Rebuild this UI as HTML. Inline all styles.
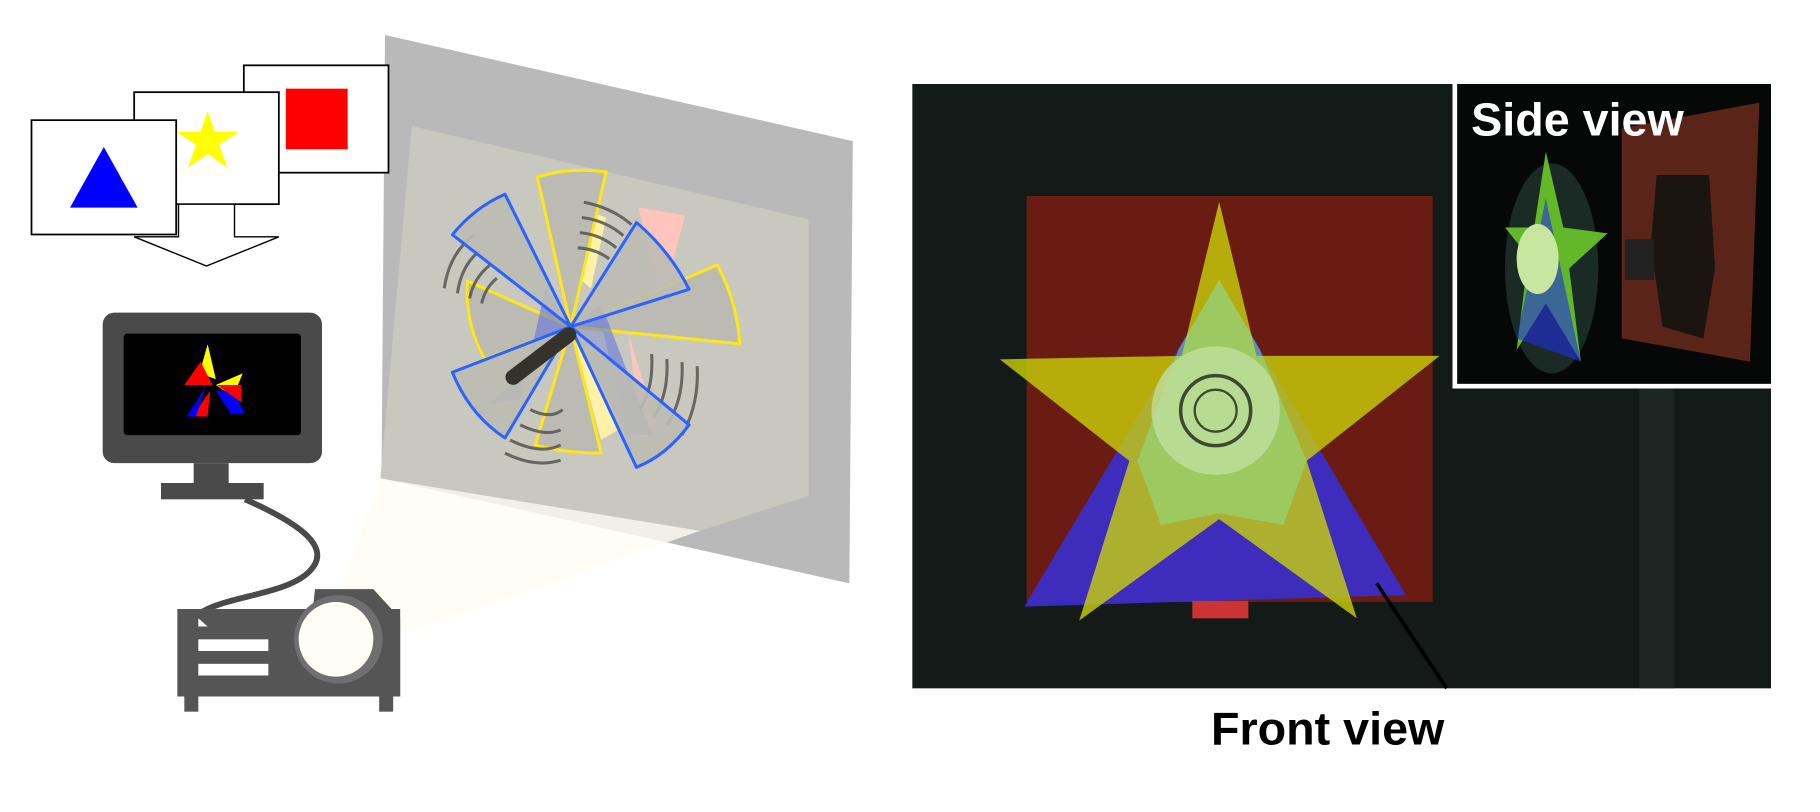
<!DOCTYPE html>
<html><head><meta charset="utf-8"><style>
html,body{margin:0;padding:0;background:#fff;width:1820px;height:812px;overflow:hidden}
svg{display:block}
text{font-family:"Liberation Sans",sans-serif;font-weight:bold}
</style></head><body>
<svg width="1820" height="812" viewBox="0 0 1560 696" preserveAspectRatio="none">
<polygon points="330,30 731,121 728,500 327,410" fill="#b9b9b9"/>
<polygon points="353,108 693,188 693,425 600,455 326,410" fill="#c9c8bf"/>
<polygon points="270,570 326,410 600,455" fill="#fffdf2" opacity="0.8"/>
<g stroke="#000" stroke-width="1.5">
<rect x="209" y="56" width="124" height="92" fill="#fff"/>
<rect x="245" y="76" width="53" height="52" fill="#f00" stroke="none"/>
<rect x="115" y="79" width="124" height="96" fill="#fff"/>
<polygon fill="#ff0" stroke="none" points="178,95 184,113 205,113 188,124 195,144 178,132 161,144 168,124 151,113 172,113"/>
<rect x="27" y="103" width="124" height="98" fill="#fff"/>
<polygon points="60,178 89,126 118,178" fill="#0000ff" stroke="none"/>
</g>
<polygon points="153,175 201,175 201,203 239,203 177,228 115,203 153,203" fill="#fff" stroke="#000" stroke-width="1.2"/>
<g>
<rect x="88" y="268" width="188" height="129" rx="10" fill="#4a4a4a"/>
<rect x="106" y="286" width="152" height="87" rx="3" fill="#000"/>
<polygon points="178,295 185,325 171,320" fill="#ff0"/>
<polygon points="172,310 182,330 158,330" fill="#f00"/>
<polygon points="185,330 208,320 200,340" fill="#ff0"/>
<polygon points="185,335 198,355 210,355 200,335" fill="#00f"/>
<polygon points="180,335 165,357 178,357" fill="#f00"/>
<polygon points="176,332 160,357 168,357" fill="#00f"/>
<polygon points="186,330 207,330 207,345" fill="#f00"/>
<rect x="166" y="397" width="30" height="17" fill="#4a4a4a"/>
<rect x="138" y="414" width="88" height="14" fill="#4a4a4a"/>
</g>
<path d="M210,428 C260,450 285,470 265,490 C240,515 165,510 162,540" fill="none" stroke="#4a4a4a" stroke-width="5"/>
<g>
<rect x="152" y="522" width="191" height="75" fill="#555"/>
<polygon points="270,505 320,505 343,530 343,597 260,597" fill="#555"/>
<circle cx="290" cy="548" r="38" fill="#6f6f6f"/>
<circle cx="288" cy="548" r="32" fill="#fffef5"/>
<rect x="170" y="548" width="60" height="10" fill="#fff"/>
<rect x="170" y="569" width="60" height="10" fill="#fff"/>
<polygon points="170,530 178,537 170,537" fill="#fff"/>
<rect x="158" y="597" width="12" height="13" fill="#555"/>
<rect x="325" y="597" width="12" height="13" fill="#555"/>
</g>
<g transform="translate(-5,0) scale(0.867)">
<polygon points="560,260 575,205 605,215 590,285" fill="#fff2a8"/>
<polygon points="637,205 683,213 660,300" fill="#ffc4bc"/>
<polygon points="570,323 600,435 625,420 600,320" fill="#fff2a8"/>
<polygon points="627,330 640,435 655,420" fill="#ffc4bc"/>
<g fill="#bcbbb3" stroke="#ffe61a" stroke-width="3" stroke-linejoin="round">
<path d="M570,323 L537,175 Q570,165 605,170 Z"/>
<path d="M570,323 L715,262 Q735,300 737,340 Z"/>
<path d="M570,323 L600,448 Q565,448 535,440 Z"/>
<path d="M570,323 L468,278 Q465,320 485,355 Z"/>
</g>
<g fill="none" stroke="#555" stroke-width="3" opacity="0.85">
<path d="M445,285 Q450,250 475,232"/><path d="M458,290 Q462,262 480,248"/><path d="M470,295 Q474,275 490,262"/><path d="M482,300 Q485,285 497,275"/>
<path d="M583,200 Q610,205 630,222"/><path d="M581,215 Q605,218 622,233"/><path d="M579,230 Q600,232 615,245"/><path d="M577,245 Q595,246 608,256"/>
<path d="M650,350 Q652,385 638,405"/><path d="M665,355 Q667,390 652,412"/><path d="M680,358 Q682,395 665,420"/><path d="M695,362 Q697,400 680,430"/>
<path d="M530,405 Q550,415 562,405"/><path d="M520,420 Q545,432 560,425"/><path d="M510,435 Q540,450 560,440"/><path d="M505,448 Q535,463 560,455"/>
</g>
<polygon points="570,323 545,285 520,395 490,400" fill="#5a6fe0" opacity="0.55"/>
<polygon points="570,323 600,300 650,430 625,430" fill="#5a6fe0" opacity="0.55"/>
<g fill="#bcbbb3" fill-opacity="0.9" stroke="#2b63ff" stroke-width="3" stroke-linejoin="round">
<path d="M570,323 L453,232 Q475,205 505,192 Z"/>
<path d="M570,323 L635,220 Q668,248 687,286 Z"/>
<path d="M570,323 L687,420 Q665,450 635,462 Z"/>
<path d="M570,323 L505,433 Q470,410 453,368 Z"/>
</g>
<line x1="513" y1="373" x2="568" y2="331" stroke="#33322c" stroke-width="15" stroke-linecap="round"/>
</g>
<g>
<rect x="782" y="72" width="736" height="518" fill="#141a17"/>
<rect x="1405" y="330" width="30" height="260" fill="#1e2624"/>
<rect x="880" y="168" width="348" height="348" fill="#6b1c12"/>
<polygon points="1045,240 878,520 1205,510" fill="#3a2fd0" opacity="0.9"/>
<polygon points="1045,173 1077,305 1234,305 1120,395 1163,530 1045,445 925,532 968,395 857,308 1013,305" fill="#c9d20a" opacity="0.8"/>
<polygon points="1045,240 1080,300 1120,395 1100,450 1045,440 995,450 975,395 1010,300" fill="#8ee08a" opacity="0.55"/>
<circle cx="1042" cy="352" r="55" fill="#c5e3a8" opacity="0.7"/>
<circle cx="1042" cy="352" r="30" fill="none" stroke="#3b4a30" stroke-width="3"/>
<circle cx="1042" cy="352" r="18" fill="none" stroke="#3b4a30" stroke-width="2"/>
<rect x="1022" y="515" width="48" height="15" fill="#c33"/>
<line x1="1180" y1="500" x2="1240" y2="590" stroke="#000" stroke-width="3"/>
</g>
<g>
<rect x="1245" y="72" width="273" height="261" fill="#fff"/>
<rect x="1249" y="72" width="269" height="257" fill="#050807"/>
<polygon points="1390,110 1508,88 1500,310 1390,290" fill="#5a2418"/>
<polygon points="1420,150 1465,150 1470,230 1460,290 1425,280 1415,210" fill="#1a1510"/>
<ellipse cx="1330" cy="230" rx="40" ry="90" fill="#1a2a25"/>
<polygon points="1325,130 1340,195 1378,200 1345,230 1355,310 1325,260 1300,300 1310,220 1290,195 1315,195" fill="#6bc82a" opacity="0.9"/>
<polygon points="1325,170 1300,290 1355,310" fill="#2030e0" opacity="0.6"/>
<ellipse cx="1318" cy="222" rx="18" ry="30" fill="#c8e6a0"/>
<rect x="1393" y="205" width="25" height="35" fill="#222"/>
<text x="1261" y="116" font-size="40" fill="#fff">Side view</text>
</g>
<text x="1138" y="638" font-size="40" fill="#000" text-anchor="middle">Front view</text>
</svg>
</body></html>
